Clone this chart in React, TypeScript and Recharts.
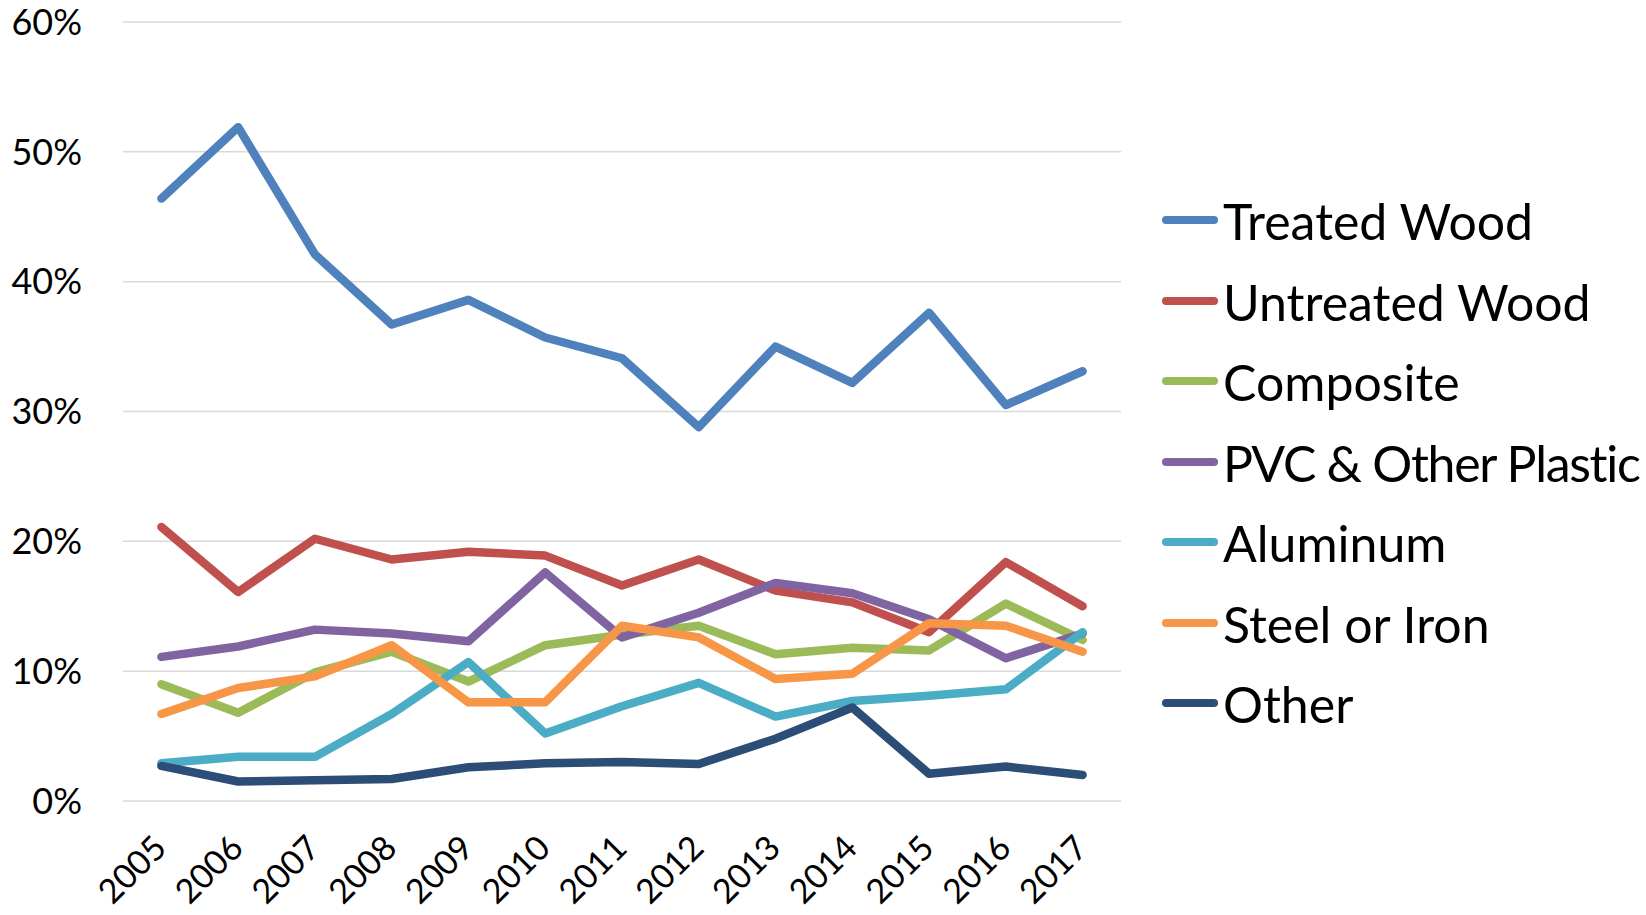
import React from 'react';
import { LineChart, Line, XAxis, YAxis, CartesianGrid } from 'recharts';

const years = ['2005', '2006', '2007', '2008', '2009', '2010', '2011', '2012', '2013', '2014', '2015', '2016', '2017'];
const treatedWood = [46.4, 51.9, 42.1, 36.7, 38.6, 35.7, 34.1, 28.8, 35.0, 32.2, 37.6, 30.5, 33.1];
const untreatedWood = [21.1, 16.1, 20.2, 18.6, 19.2, 18.9, 16.6, 18.6, 16.2, 15.3, 13.0, 18.4, 15.0];
const composite = [9.0, 6.8, 9.9, 11.5, 9.2, 12.0, 12.8, 13.5, 11.3, 11.8, 11.6, 15.2, 12.4];
const pvcPlastic = [11.1, 11.9, 13.2, 12.9, 12.3, 17.6, 12.6, 14.5, 16.8, 16.0, 14.0, 11.0, 12.9];
const aluminum = [2.9, 3.4, 3.4, 6.7, 10.7, 5.2, 7.3, 9.1, 6.5, 7.7, 8.1, 8.6, 13.0];
const steelIron = [6.7, 8.7, 9.6, 12.0, 7.6, 7.6, 13.5, 12.6, 9.4, 9.8, 13.7, 13.5, 11.5];
const other = [2.7, 1.5, 1.6, 1.7, 2.6, 2.9, 3.0, 2.85, 4.8, 7.2, 2.1, 2.65, 2.0];
const yTicks = [0, 10, 20, 30, 40, 50, 60];

const seriesNames = ['Treated Wood', 'Untreated Wood', 'Composite', 'PVC & Other Plastic', 'Aluminum', 'Steel or Iron', 'Other'];
const seriesValues = [treatedWood, untreatedWood, composite, pvcPlastic, aluminum, steelIron, other];
const seriesColors = ['#4f81bd', '#c0504d', '#9bbb59', '#8064a2', '#4bacc6', '#f79646', '#2c4d75'];

const data = years.map((y, i) => {
  const row: Record<string, string | number> = { year: y };
  seriesNames.forEach((n, s) => {
    row[n] = seriesValues[s][i];
  });
  return row;
});

const FONT = 'Lato, "Open Sans", sans-serif';

const XTick = (props: any) => {
  const { x, y, payload } = props;
  return (
    <g transform={`translate(${x + 7},${y + 41})`}>
      <text textAnchor="end" transform="rotate(-45)" fontFamily={FONT} fontSize={34} fill="#000">
        {payload.value}
      </text>
    </g>
  );
};

const LegendBlock = () => (
  <div style={{ position: 'absolute', left: 1162, top: 180, fontFamily: FONT, whiteSpace: 'nowrap' }}>
    {seriesNames.map((n, i) => (
      <div key={n} style={{ height: 80.5, display: 'flex', alignItems: 'center' }}>
        <div style={{ width: 56, height: 8, borderRadius: 4, background: seriesColors[i], marginRight: 5, flex: 'none' }} />
        <span
          style={{
            fontSize: 50,
            lineHeight: 1,
            color: '#000',
            position: 'relative',
            top: 1,
            letterSpacing: n.length > 15 ? -1.3 : 0,
          }}
        >
          {n}
        </span>
      </div>
    ))}
  </div>
);

export default function App() {
  return (
    <div style={{ position: 'absolute', left: 0, top: 0, width: 1646, height: 915, overflow: 'hidden', background: '#fff' }}>
      <LineChart width={1646} height={915} data={data} margin={{ top: 22, right: 525, bottom: 0, left: 0 }}>
        <CartesianGrid vertical={false} stroke="#d9d9d9" strokeWidth={1.5} />
        <XAxis
          dataKey="year"
          axisLine={false}
          tickLine={false}
          interval={0}
          padding={{ left: 38.4, right: 38.4 }}
          tick={<XTick />}
          height={114}
        />
        <YAxis
          domain={[0, 60]}
          ticks={yTicks}
          axisLine={false}
          tickLine={false}
          width={123}
          tickMargin={35}
          tickFormatter={(v: number) => `${v}%`}
          tick={{ fontFamily: FONT, fontSize: 36, fill: '#000' }}
        />
        {seriesNames.map((n, i) => (
          <Line
            key={n}
            dataKey={n}
            stroke={seriesColors[i]}
            strokeWidth={8.5}
            strokeLinecap="round"
            strokeLinejoin="round"
            dot={false}
            activeDot={false}
            isAnimationActive={false}
            type="linear"
          />
        ))}
      </LineChart>
      <LegendBlock />
    </div>
  );
}
